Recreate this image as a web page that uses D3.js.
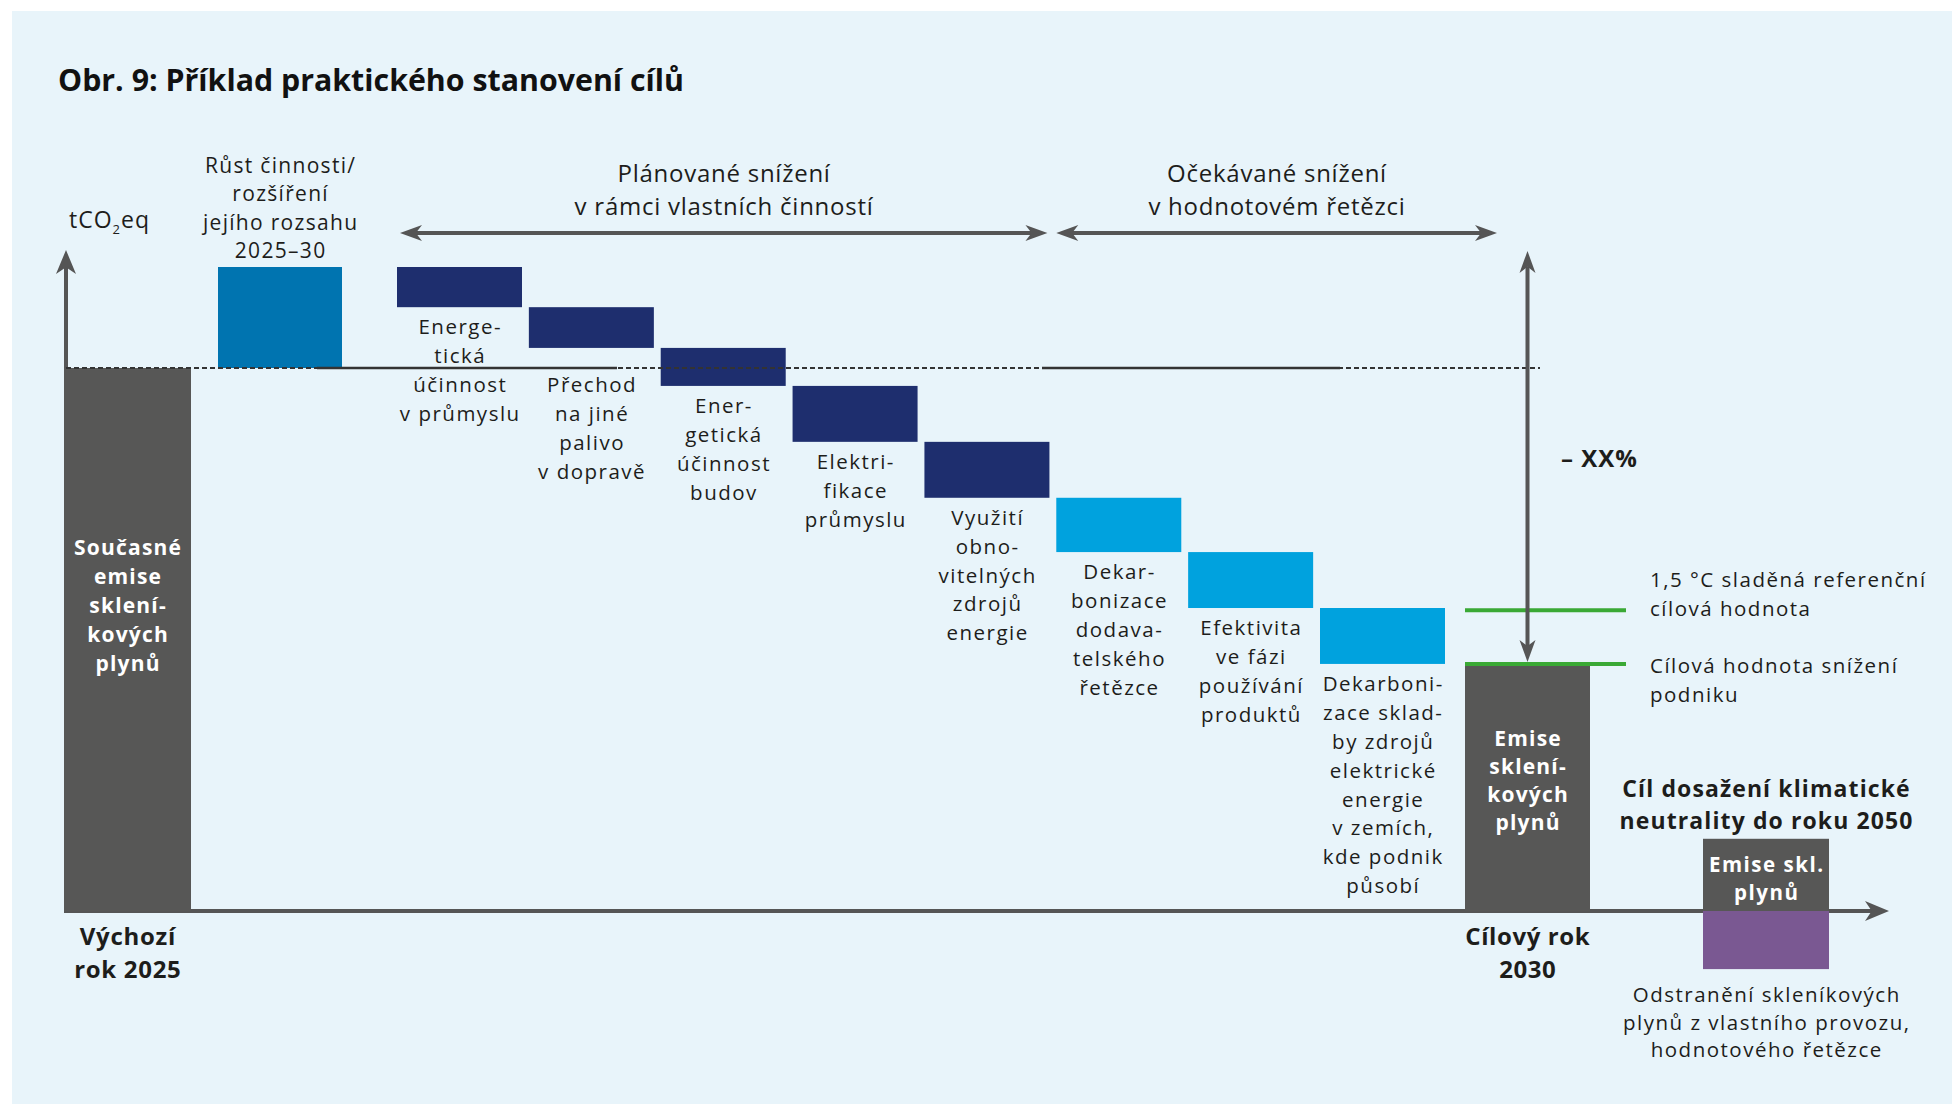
<!DOCTYPE html>
<html>
<head>
<meta charset="utf-8">
<script src="https://cdn.jsdelivr.net/npm/d3@7"></script>
<style>
  body { margin: 0; background: #ffffff; }
  svg { display: block; }
  text { font-family: "Open Sans", "Noto Sans", sans-serif; fill: #1d1d1b; }
</style>
</head>
<body>
<script>
// ---- data (units: today's emissions = 100) ----
const baseValue = 100;
const baseLabel = ["Současné", "emise", "sklení-", "kových", "plynů"];
const baseAxisLabel = ["Výchozí", "rok 2025"];

const growthValue = 18.6;
const growthLabel = ["Růst činnosti/", "rozšíření", "jejího rozsahu", "2025–30"];

const stepNames = ["prumysl", "doprava", "budovy", "elektrifikace", "oze",
                   "dodavatele", "produkty", "elektrina"];
const stepValues = [7.4, 7.5, 7.0, 10.3, 10.3, 10.0, 10.3, 10.3];
const stepGroups = ["own", "own", "own", "own", "own", "chain", "chain", "chain"];
const stepLabels = [
  ["Energe-", "tická", "účinnost", "v průmyslu"],
  ["Přechod", "na jiné", "palivo", "v dopravě"],
  ["Ener-", "getická", "účinnost", "budov"],
  ["Elektri-", "fikace", "průmyslu"],
  ["Využití", "obno-", "vitelných", "zdrojů", "energie"],
  ["Dekar-", "bonizace", "dodava-", "telského", "řetězce"],
  ["Efektivita", "ve fázi", "používání", "produktů"],
  ["Dekarboni-", "zace sklad-", "by zdrojů", "elektrické", "energie", "v zemích,", "kde podnik", "působí"]
];
const groupHeaders = {
  own: ["Plánované snížení", "v rámci vlastních činností"],
  chain: ["Očekávané snížení", "v hodnotovém řetězci"]
};

const referenceValue = 55.4;   // 1,5 °C reference target
const referenceLabel = ["1,5 °C sladěná referenční", "cílová hodnota"];
const targetLineLabel = ["Cílová hodnota snížení", "podniku"];
const targetBarLabel = ["Emise", "sklení-", "kových", "plynů"];
const targetAxisLabel = ["Cílový rok", "2030"];
const reductionText = "– XX%";

const netZeroEmissions = 13.3;
const netZeroRemovals = 10.7;
const netZeroTitle = ["Cíl dosažení klimatické", "neutrality do roku 2050"];
const netZeroBarLabel = ["Emise skl.", "plynů"];
const netZeroRemovalLabel = ["Odstranění skleníkových", "plynů z vlastního provozu,", "hodnotového řetězce"];

const titleText = "Obr. 9: Příklad praktického stanovení cílů";
const yAxisLabel = "tCO";

// ---- layout ----
const W = 1952, H = 1104;
const colors = {
  panel: "#e8f4fa", gray: "#575756", growth: "#0074b0",
  own: "#1e2e6e", chain: "#00a2de", purple: "#7a5892",
  green: "#3aa935", arrow: "#555555", text: "#1d1d1b", line: "#333333"
};
const slots = {
  base: [64, 191], growth: [218, 342], target: [1465, 1590], netZero: [1703, 1829]
};
// label styles
const labelStyle = { size: 20.5, ls: 1.5 };
const whiteStyle = { weight: 700, size: 21, fill: "#ffffff", ls: 1.2 };

const svg = d3.select("body").append("svg").attr("width", W).attr("height", H);
svg.append("rect").attr("x", 12).attr("y", 11).attr("width", W - 12).attr("height", H - 11)
  .attr("fill", colors.panel);

const y = d3.scaleLinear().domain([0, 100]).range([911, 368]);
const xStep = d3.scaleBand().domain(stepNames).range([397, 1445]).paddingInner(0.052);
const bw = xStep.bandwidth();

// waterfall levels
let level = baseValue + growthValue;
const steps = stepNames.map((name, i) => {
  const top = level;
  level -= stepValues[i];
  return { name, top, bottom: level, group: stepGroups[i], label: stepLabels[i] };
});
const targetValue = level;

function textLines(g, arr, x, y0, lh, opt) {
  opt = opt || {};
  const anchor = opt.anchor || "middle";
  const ls = opt.ls || 0;
  // letter-spacing adds a trailing gap; nudge centred text back
  const nx = anchor === "middle" ? x + ls / 2 : x;
  const t = g.append("text")
    .attr("text-anchor", anchor)
    .style("font-size", (opt.size || 20) + "px")
    .style("font-weight", opt.weight || 400)
    .style("letter-spacing", ls + "px")
    .style("fill", opt.fill || colors.text);
  arr.forEach((s, i) => {
    t.append("tspan").attr("x", nx).attr("y", y0 + i * lh).text(s);
  });
  return t;
}

function head(g, x, yy, a, len, half, col) {
  const pts = [[0, 0], [-len, -half], [-len * 0.72, 0], [-len, half]].map(([px, py]) =>
    [x + px * Math.cos(a) - py * Math.sin(a), yy + px * Math.sin(a) + py * Math.cos(a)]);
  g.append("path").attr("d", "M" + pts.join("L") + "Z").attr("fill", col);
}

function arrow(g, x1, y1, x2, y2, both, w, len, half) {
  const a = Math.atan2(y2 - y1, x2 - x1);
  const cut = len * 0.7;
  const sx = both ? x1 + Math.cos(a) * cut : x1;
  const sy = both ? y1 + Math.sin(a) * cut : y1;
  g.append("line")
    .attr("x1", sx).attr("y1", sy)
    .attr("x2", x2 - Math.cos(a) * cut).attr("y2", y2 - Math.sin(a) * cut)
    .attr("stroke", colors.arrow).attr("stroke-width", w);
  head(g, x2, y2, a, len, half, colors.arrow);
  if (both) head(g, x1, y1, a + Math.PI, len, half, colors.arrow);
}

// title
svg.append("text").attr("x", 58).attr("y", 91)
  .attr("textLength", 626).attr("lengthAdjust", "spacingAndGlyphs")
  .style("font-size", "30px").style("font-weight", 700).style("fill", "#111")
  .text(titleText);

// y label with subscript
const yl = svg.append("text").attr("x", 69).attr("y", 228)
  .style("font-size", "23px").style("letter-spacing", "1px");
yl.append("tspan").text(yAxisLabel);
yl.append("tspan").attr("dy", 6).style("font-size", "13px").text("2");
yl.append("tspan").attr("dy", -6).text("eq");

// x axis (drawn under bars)
const axes = svg.append("g");
arrow(axes, slots.base[0], y(0), 1889, y(0), false, 4, 24, 10);

// base bar
const bars = svg.append("g");
bars.append("rect")
  .attr("x", slots.base[0]).attr("width", slots.base[1] - slots.base[0])
  .attr("y", y(baseValue)).attr("height", y(0) - y(baseValue))
  .attr("fill", colors.gray);
textLines(svg, baseLabel, (slots.base[0] + slots.base[1]) / 2,
  (y(baseValue) + y(0)) / 2 - 85, 29.2, whiteStyle);

// growth bar
bars.append("rect")
  .attr("x", slots.growth[0]).attr("width", slots.growth[1] - slots.growth[0])
  .attr("y", y(baseValue + growthValue)).attr("height", y(baseValue) - y(baseValue + growthValue))
  .attr("fill", colors.growth);
textLines(svg, growthLabel, (slots.growth[0] + slots.growth[1]) / 2,
  y(baseValue + growthValue) - 9 - 3 * 28.4, 28.4, { size: 21, ls: 1.3 });

// reduction steps
bars.selectAll("rect.step").data(steps).enter().append("rect")
  .attr("class", "step")
  .attr("x", d => xStep(d.name)).attr("width", bw)
  .attr("y", d => y(d.top)).attr("height", d => y(d.bottom) - y(d.top))
  .attr("fill", d => colors[d.group]);

steps.forEach(d => {
  let by = y(d.bottom) + 27;
  if (by > y(baseValue) - 4 && by < y(baseValue) + 22) by = y(baseValue) + 24;
  textLines(svg, d.label, xStep(d.name) + bw / 2, by, 28.9, labelStyle);
});

// target bar 2030
bars.append("rect")
  .attr("x", slots.target[0]).attr("width", slots.target[1] - slots.target[0])
  .attr("y", y(targetValue)).attr("height", y(0) - y(targetValue))
  .attr("fill", colors.gray);
const tMid = (slots.target[0] + slots.target[1]) / 2;
textLines(svg, targetBarLabel, tMid, (y(targetValue) + y(0)) / 2 - 41, 27.8, whiteStyle);

// net zero 2050 bars
bars.append("rect")
  .attr("x", slots.netZero[0]).attr("width", slots.netZero[1] - slots.netZero[0])
  .attr("y", y(netZeroEmissions)).attr("height", y(0) - y(netZeroEmissions))
  .attr("fill", colors.gray);
bars.append("rect")
  .attr("x", slots.netZero[0]).attr("width", slots.netZero[1] - slots.netZero[0])
  .attr("y", y(0)).attr("height", y(-netZeroRemovals) - y(0))
  .attr("fill", colors.purple);
const nMid = (slots.netZero[0] + slots.netZero[1]) / 2;
textLines(svg, netZeroBarLabel, nMid, (y(netZeroEmissions) + y(0)) / 2 - 3, 28,
  { weight: 700, size: 20.5, fill: "#ffffff", ls: 1.5 });
textLines(svg, netZeroTitle, nMid, y(netZeroEmissions) - 42, 32, { weight: 700, size: 23, ls: 1.1 });
textLines(svg, netZeroRemovalLabel, nMid, y(-netZeroRemovals) + 33, 27.5, labelStyle);

// today's level line: dashed with two solid runs
const lineY = y(baseValue);
svg.append("line").attr("x1", 66).attr("x2", 1540).attr("y1", lineY).attr("y2", lineY)
  .attr("stroke", colors.line).attr("stroke-width", 2).attr("stroke-dasharray", "5,3");
[[317, 617], [1042, 1340]].forEach(([a, b]) => {
  svg.append("line").attr("x1", a).attr("x2", b).attr("y1", lineY).attr("y2", lineY)
    .attr("stroke", colors.line).attr("stroke-width", 2.6);
});

// y axis arrow
arrow(axes, 66, y(0) + 2, 66, 250, false, 4, 24, 10);

// group header arrows
const headerY = 233;
["own", "chain"].forEach(grp => {
  const names = steps.filter(d => d.group === grp).map(d => d.name);
  const x1 = xStep(names[0]) + (grp === "own" ? 3 : 0);
  const x2 = xStep(names[names.length - 1]) + bw + (grp === "own" ? -2 : 52);
  arrow(svg, x1, headerY, x2, headerY, true, 4, 22, 8);
  textLines(svg, groupHeaders[grp], (x1 + x2) / 2, 182, 33, { size: 24, ls: 0.75 });
});

// green target lines
const gx1 = slots.target[0], gx2 = slots.target[1] + 36;
[referenceValue, targetValue].forEach(v => {
  svg.append("line").attr("x1", gx1).attr("x2", gx2).attr("y1", y(v)).attr("y2", y(v))
    .attr("stroke", colors.green).attr("stroke-width", 4);
});
textLines(svg, referenceLabel, 1650, y(referenceValue) - 23, 29, Object.assign({ anchor: "start" }, labelStyle));
textLines(svg, targetLineLabel, 1650, y(targetValue) + 9, 29, Object.assign({ anchor: "start" }, labelStyle));

// reduction arrow
arrow(svg, tMid, 251, tMid, y(targetValue) - 2, true, 4, 22, 8);
svg.append("text").attr("x", 1561).attr("y", 467)
  .style("font-size", "24px").style("font-weight", 700).style("letter-spacing", "1px")
  .text(reductionText);

// axis year labels
textLines(svg, baseAxisLabel, (slots.base[0] + slots.base[1]) / 2, y(0) + 34, 33, { weight: 700, size: 24, ls: 0.7 });
textLines(svg, targetAxisLabel, tMid, y(0) + 34, 33, { weight: 700, size: 24, ls: 0.6 });
</script>
</body>
</html>
